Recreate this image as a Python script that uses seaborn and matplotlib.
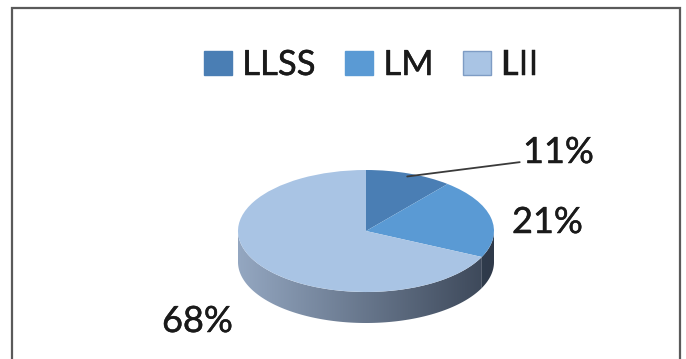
import numpy as np
import matplotlib
matplotlib.use("Agg")
import matplotlib.pyplot as plt
import matplotlib.patheffects as pe
import seaborn as sns
from matplotlib.patches import Patch, Polygon, Rectangle
from matplotlib.colors import LinearSegmentedColormap

# ---- data -------------------------------------------------------------
categories = ["LLSS", "LM", "LII"]
shares = [11, 21, 68]
value_labels = ["11%", "21%", "68%"]

# ---- styling ----------------------------------------------------------
top_colors = ["#4A7EB4", "#5A9AD4", "#A9C4E4"]
legend_edges = ["#4A7EB4", "#5A9AD4", "#7E9CC4"]
side_ramps = [("#3E5F86", "#2E3F55"),
              ("#3B5878", "#2F3A4A"),
              ("#94A7C1", "#3A4556")]
text_color = "#1a1a1a"
heavier = [pe.withStroke(linewidth=0.35, foreground=text_color)]

sns.set_theme(style="white")
plt.rcParams["font.family"] = ["Lato", "DejaVu Sans"]

W, H = 686, 359
fig = plt.figure(figsize=(W / 100, H / 100), dpi=100)
fig.patch.set_facecolor("white")

# outer chart frame (open at the bottom edge of the image)
fig.add_artist(Rectangle((12 / W, -0.2), (680 - 12) / W, 1.2 - 8 / H,
                         transform=fig.transFigure, fill=False,
                         edgecolor="#5a5a5a", lw=1.6))

# ---- pie geometry (pixels) -------------------------------------------
cx, cy, rx, ry, depth = 366, 231, 128, 61, 31
d = depth / ry

ax = fig.add_axes([(cx - rx) / W, (H - (cy + ry + depth)) / H,
                   2 * rx / W, (2 * ry + depth) / H])

wedges, _ = ax.pie(shares, colors=top_colors, startangle=90,
                   counterclock=False, radius=1,
                   wedgeprops=dict(linewidth=0, zorder=3))

# side walls of the tilted disc: only the front half is visible
total = float(sum(shares))
start = 90.0
grad = np.linspace(0, 1, 256)[None, :]
for share, (c0, c1) in zip(shares, side_ramps):
    end = start - share / total * 360.0
    lo, hi = max(end, -180.0), min(start, 0.0)
    if lo < hi:
        t = np.radians(np.linspace(lo, hi, 120))
        top = np.column_stack([np.cos(t), np.sin(t)])
        bot = np.column_stack([np.cos(t[::-1]), np.sin(t[::-1]) - d])
        poly = Polygon(np.vstack([top, bot]), closed=True,
                       facecolor="none", edgecolor="none")
        ax.add_patch(poly)
        cmap = LinearSegmentedColormap.from_list("side", [c0, c1])
        im = ax.imshow(grad, extent=(-1, 1, -1 - d, 1), cmap=cmap,
                       aspect="auto", zorder=2, interpolation="bilinear")
        im.set_clip_path(poly)
    start = end

ax.set_aspect("auto")
ax.set_xlim(-1, 1)
ax.set_ylim(-1 - d, 1)
ax.set_axis_off()

# ---- value labels -----------------------------------------------------
mid0 = np.radians(90 - shares[0] / total * 180.0)
ann = ax.annotate(value_labels[0],
                  xy=(0.95 * np.cos(mid0), 0.95 * np.sin(mid0)),
                  xycoords="data", xytext=(523, H - 163),
                  textcoords="figure pixels", fontsize=26, color=text_color,
                  ha="left", va="baseline",
                  arrowprops=dict(arrowstyle="-", color="#3a3a3a", lw=1.3,
                                  shrinkA=0, shrinkB=0, relpos=(0, 0.22)))
ann.set_path_effects(heavier)
fig.text(512 / W, 1 - 233 / H, value_labels[1], fontsize=26,
         color=text_color, ha="left", va="baseline", path_effects=heavier)
fig.text(162 / W, 1 - 332 / H, value_labels[2], fontsize=26,
         color=text_color, ha="left", va="baseline", path_effects=heavier)

# ---- legend -----------------------------------------------------------
handles = [Patch(facecolor=fc, edgecolor=ec, linewidth=1.0)
           for fc, ec in zip(top_colors, legend_edges)]
leg = fig.legend(handles, categories, loc="center",
                 bbox_to_anchor=(371 / W, 1 - 65 / H), ncol=3, frameon=False,
                 fontsize=25, handlelength=0.8, handleheight=0.7,
                 handletextpad=0.3, columnspacing=0.85,
                 labelcolor=text_color)
for txt in leg.get_texts():
    txt.set_path_effects(heavier)

fig.savefig("out.png", dpi=100)
